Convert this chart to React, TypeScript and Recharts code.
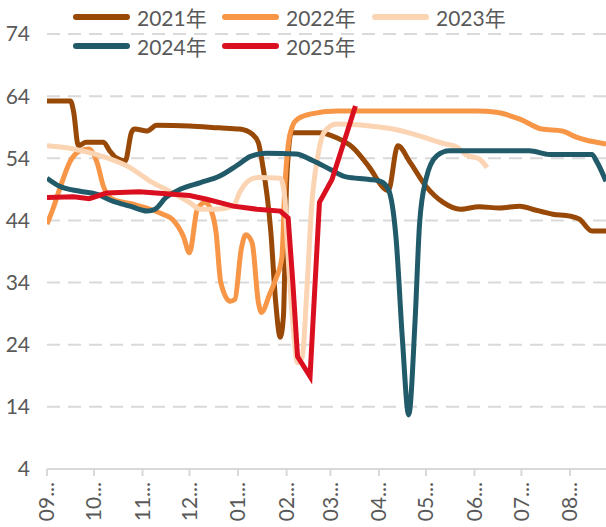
import { LineChart, Line, XAxis, YAxis, CartesianGrid } from 'recharts'

// days counted from 09-01
const monthStarts = [0, 30, 61, 91, 122, 153, 181, 212, 242, 273, 303, 334]
const monthLabels = ['09', '10', '11', '12', '01', '02', '03', '04', '05', '06', '07', '08']
const yTicks = [4, 14, 24, 34, 44, 54, 64, 74]

const y2021: [number, number][] = [[0,63.2],[15,63.2],[17,61.5],[20,56],[25,56.6],[36,56.6],[40,55.2],[44,54.1],[50,53.6],[54,58.2],[56,58.7],[64,58.4],[70,59.3],[91,59.2],[110,58.9],[123,58.7],[131,57.9],[135,56.5],[137,54],[143,42],[146,31],[149,25.2],[151,28.6],[153,50],[154,54.4],[156,58.1],[174,58.1],[185,57.3],[195,55.8],[206,52.5],[216,49],[218,48.8],[224,56],[232,53.3],[242,49.5],[253,46.9],[264,45.8],[276,46.2],[289,46],[302,46.3],[310,45.8],[323,45],[334,44.7],[340,44.2],[348,42.3],[357,42.3]]
const y2022: [number, number][] = [[0,43.4],[4,46],[8,49],[15,53.6],[21,55.2],[27,55.5],[32,53.3],[36,49.5],[42,47.4],[55,46.6],[66,45.8],[74,45],[80,44.2],[87,41.5],[91,38.8],[96,45.8],[101,46.9],[105,45.5],[108,42],[111,34],[117,31],[120,31.3],[124,39.3],[127,41.7],[131,40.4],[135,30.8],[137,29.2],[142,32],[146,34.5],[150,38],[152,50],[154,56],[157,59.3],[160,60.3],[168,61.1],[185,61.6],[274,61.6],[287,61.4],[302,60.3],[316,58.7],[329,58.4],[338,57.4],[357,56.3]]
const y2023: [number, number][] = [[0,56],[17,55.5],[38,54.1],[53,52.5],[66,50.3],[80,48.5],[91,46.9],[98,45.8],[108,45.8],[119,46.3],[123,48.5],[130,50.6],[135,50.9],[149,50.8],[152,47.4],[153,42.5],[157,27.5],[160,21.1],[163,22],[166,32.9],[169,46.3],[173,54.4],[177,58.2],[185,59.5],[206,59.2],[221,58.7],[238,57.6],[253,56.4],[262,55.8],[268,54.5],[276,53.9],[281,52.5]]
const y2024: [number, number][] = [[0,50.8],[8,49.5],[21,48.7],[32,48.2],[42,47.1],[53,46.3],[64,45.5],[69,45.8],[76,47.7],[85,49],[98,50.1],[110,51.1],[121,52.8],[130,54.3],[140,54.8],[159,54.7],[170,53.6],[181,52.2],[191,51],[206,50.6],[213,50.3],[218,49],[223,40.9],[227,24.8],[231,12.7],[235,27.5],[238,43.7],[242,50.6],[249,54.4],[257,55.2],[308,55.2],[321,54.6],[348,54.6],[351,53.5],[357,50.3]]
const y2025: [number, number][] = [[0,47.7],[17,47.8],[27,47.5],[38,48.4],[59,48.6],[91,48],[102,47.4],[119,46.3],[134,45.8],[149,45.5],[154,44.4],[157,34],[160,22.1],[168,18.9],[174,46.9],[182,50.6],[197,62.4]]

const series = [
  { name: '2021年', color: '#984807', pts: y2021, type: 'monotone' },
  { name: '2022年', color: '#F79646', pts: y2022, type: 'monotone' },
  { name: '2023年', color: '#FBD4B4', pts: y2023, type: 'monotone' },
  { name: '2024年', color: '#215A69', pts: y2024, type: 'monotone' },
  { name: '2025年', color: '#DA1020', pts: y2025, type: 'linear' },
]

const font = "Lato, 'Noto Sans CJK SC', sans-serif"
const legendPos = [[73, 17], [222, 17], [372, 17], [73, 46], [222, 46]]

function MonthTick({ x, y, payload }: any) {
  const i = monthStarts.indexOf(payload.value)
  return <text x={x} y={y + 4} transform={`rotate(-90, ${x}, ${y + 4})`} textAnchor="end" dy="0.35em"
    fill="#595959" fontSize={21} fontFamily={font}>{monthLabels[i] + '...'}</text>
}

function LegendBox() {
  return <div style={{ position: 'absolute', left: 0, top: 0, width: 606, height: 60 }}>
    {series.map((s, i) => <div key={s.name} style={{ position: 'absolute', left: legendPos[i][0], top: legendPos[i][1] - 13, display: 'flex', alignItems: 'center', height: 26 }}>
      <span style={{ display: 'inline-block', width: 57, height: 6, borderRadius: 3, background: s.color, marginRight: 7 }} />
      <span style={{ fontFamily: font, fontSize: 21, color: '#595959' }}>{s.name}</span>
    </div>)}
  </div>
}

export default function App() {
  return <div style={{ position: 'absolute', left: 0, top: 0, width: 606, height: 527, background: '#fff' }}>
    <LineChart width={606} height={527} margin={{ top: 34, right: 0, bottom: 0, left: 0 }}>
      <CartesianGrid vertical={false} stroke="#D9D9D9" strokeWidth={2} strokeDasharray="13 8" />
      <XAxis type="number" dataKey="d" domain={[0, 357]} ticks={monthStarts} allowDataOverflow
        height={58} interval={0} stroke="#D9D9D9" strokeWidth={2} tickSize={7} tick={<MonthTick />} />
      <YAxis domain={[4, 74]} ticks={yTicks} width={47} axisLine={false} tickLine={false} tickSize={0} tickMargin={17}
        tick={{ fill: '#595959', fontSize: 21, fontFamily: font }} />
      {series.map(s => <Line key={s.name} data={s.pts.map(([d, v]) => ({ d, v }))} dataKey="v" name={s.name}
        type={s.type as any} stroke={s.color} strokeWidth={5} dot={false} isAnimationActive={false} />)}
    </LineChart>
    <LegendBox />
  </div>
}
